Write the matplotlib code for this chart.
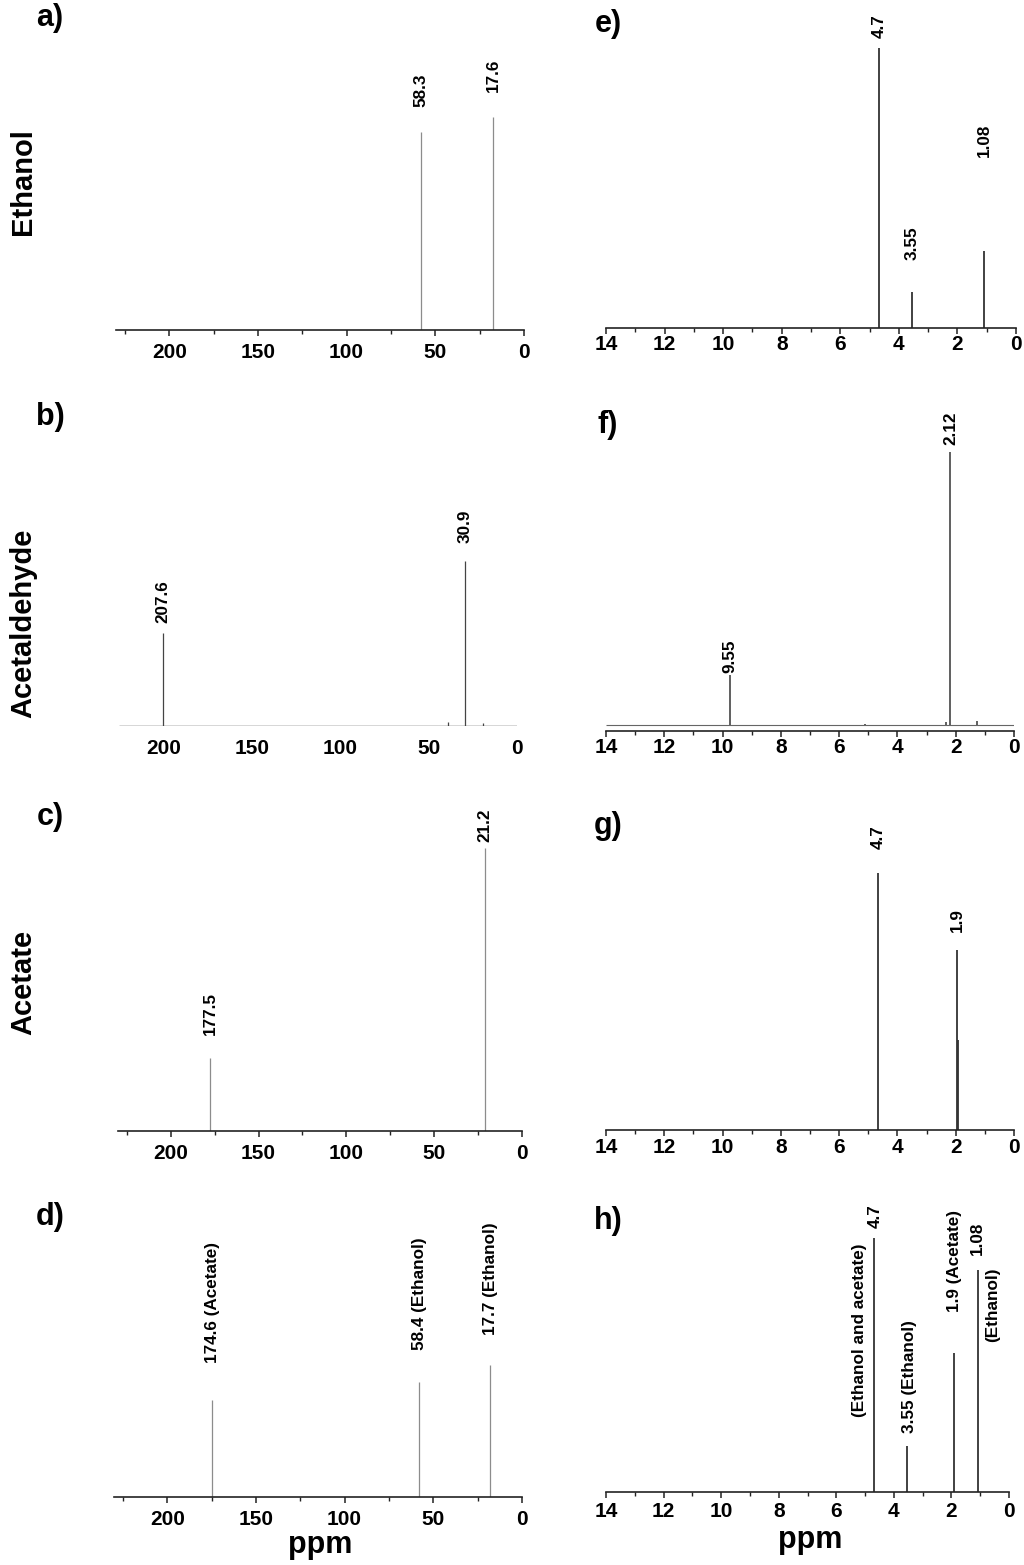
import numpy as np
import matplotlib; matplotlib.use("Agg")
import matplotlib.pyplot as plt
from matplotlib.ticker import MultipleLocator

plt.rcParams["font.family"] = ["Liberation Sans", "DejaVu Sans"]
plt.rcParams["font.weight"] = "bold"

# --- 13C spectra (left column), ppm and relative intensity ---
a_ppm = [58.1, 17.5];            a_int = [66.0, 71.0]
b_ppm = [200.0, 29.5, 39.0, 19.0]; b_int = [31.0, 55.0, 1.2, 1.0]
c_ppm = [177.5, 21.0];           c_int = [24.3, 94.3]
d_ppm = [174.5, 58.0, 17.8];     d_int = [32.3, 38.3, 44.0]

# --- 1H spectra (right column) ---
e_ppm = [4.68, 3.55, 1.08];      e_int = [93.3, 12.0, 25.7]
f_ppm = [9.75, 2.18, 2.35, 1.27, 5.1]; f_int = [16.7, 91.0, 1.0, 1.3, 0.5]
f_base = 2.0
g_ppm = [4.67, 1.96, 1.93];      g_int = [85.7, 60.0, 30.0]
h_ppm = [4.70, 3.55, 1.90, 1.08]; h_int = [84.7, 15.3, 46.3, 74.0]

# peak labels: text, ppm, bottom of text
a_lab = [("58.3", 58.1, 74.3), ("17.6", 17.5, 79.3)]
b_lab = [("207.6", 200.0, 34.3), ("30.9", 29.5, 61.0)]
c_lab = [("177.5", 177.5, 32.0), ("21.2", 21.0, 96.3)]
d_lab = [("174.6 (Acetate)", 174.5, 44.7), ("58.4 (Ethanol)", 58.0, 49.0),
         ("17.7 (Ethanol)", 17.8, 54.0)]
e_lab = [("4.7", 4.68, 96.7), ("3.55", 3.55, 22.7), ("1.08", 1.08, 57.0)]
f_lab = [("9.55", 9.75, 19.3), ("2.12", 2.18, 95.3)]
g_lab = [("4.7", 4.67, 93.7), ("1.9", 1.96, 66.0)]
h_lab = [("4.7", 4.65, 88.0), ("(Ethanol and acetate)", 5.18, 25.0),
         ("3.55 (Ethanol)", 3.45, 19.7), ("1.9 (Acetate)", 1.90, 60.0),
         ("1.08", 1.10, 79.0), ("(Ethanol)", 0.56, 50.0)]

row_names = ["Ethanol", "Acetaldehyde", "Acetate"]
W, H = 1024, 1565
fig = plt.figure(figsize=(W/100, H/100), dpi=100)

def axes_px(x0, x1, base, h=300):
    return fig.add_axes([x0/W, 1-base/H, (x1-x0)/W, h/H])

def style(ax, xmax, major, minor, pad, show_axis=True):
    ax.set_xlim(xmax, 0); ax.set_ylim(0, 100)
    for s in ("top", "right", "left"): ax.spines[s].set_visible(False)
    ax.spines["bottom"].set_linewidth(1.2); ax.spines["bottom"].set_color("#222")
    ax.set_yticks([])
    ax.xaxis.set_major_locator(MultipleLocator(major))
    ax.xaxis.set_minor_locator(MultipleLocator(minor))
    ax.tick_params(axis="x", which="major", direction="out", length=4.5, width=1.1,
                   labelsize=15, pad=pad, color="#222")
    ax.tick_params(axis="x", which="minor", direction="out", length=3, width=1.0, color="#222")
    if not show_axis:
        ax.spines["bottom"].set_visible(False)
        ax.tick_params(axis="x", which="both", length=0, pad=pad+4)
    ax.patch.set_alpha(0)

def labels(ax, labs, size=12.3):
    for t, x, y in labs:
        ax.text(x, y, t, rotation=90, ha="center", va="bottom", fontsize=size, clip_on=False)

# a
ax = axes_px(116, 524, 330); style(ax, 230, 50, 25, 5)
ax.vlines(a_ppm, 0, a_int, color="#8c8c8c", lw=0.9); labels(ax, a_lab)
# b
ax = axes_px(119, 517, 726); style(ax, 225, 50, 25, 5, show_axis=False)
ax.hlines(0, 225, 0, color="#333", lw=1.0)
ax.vlines(b_ppm, 0, b_int, color="#444", lw=0.9); labels(ax, b_lab)
# c
ax = axes_px(118, 522, 1131); style(ax, 230, 50, 25, 5)
ax.vlines(c_ppm, 0, c_int, color="#8c8c8c", lw=0.9); labels(ax, c_lab)
# d
ax = axes_px(114, 522, 1497); style(ax, 230, 50, 25, 5)
ax.vlines(d_ppm, 0, d_int, color="#8c8c8c", lw=0.9); labels(ax, d_lab)

# e
ax = axes_px(606, 1016, 328); style(ax, 14, 2, 1, 0.8)
ax.vlines(e_ppm, 0, e_int, color="#333", lw=1.3); labels(ax, e_lab)
# f
ax = axes_px(606, 1014, 731); style(ax, 14, 2, 1, 0.8)
ax.hlines(f_base, 14, 0, color="#666", lw=0.8)
ax.vlines(f_ppm, f_base, np.array(f_int)+f_base, color="#444", lw=1.2); labels(ax, f_lab)
# g
ax = axes_px(606, 1014, 1130); style(ax, 14, 2, 1, 1.5)
ax.vlines(g_ppm, 0, g_int, color="#333", lw=1.3); labels(ax, g_lab)
# h
ax = axes_px(606, 1009, 1492); style(ax, 14, 2, 1, 3)
ax.vlines(h_ppm, 0, h_int, color="#333", lw=1.3); labels(ax, h_lab)

# panel letters
for t, x, y in [("a)", 50, 18), ("b)", 50, 417), ("c)", 50, 817), ("d)", 50, 1217),
                ("e)", 608, 24), ("f)", 608, 425), ("g)", 608, 826), ("h)", 608, 1221)]:
    fig.text(x/W, 1-y/H, t, ha="center", va="center", fontsize=22)

for name, y in zip(row_names, [182, 623, 982]):
    fig.text(23/W, 1-y/H, name, rotation=90, ha="center", va="center", fontsize=21)

fig.text(320/W, 1-1545/H, "ppm", ha="center", va="center", fontsize=22)
fig.text(810/W, 1-1540/H, "ppm", ha="center", va="center", fontsize=22)

fig.savefig("out.png", dpi=100)
